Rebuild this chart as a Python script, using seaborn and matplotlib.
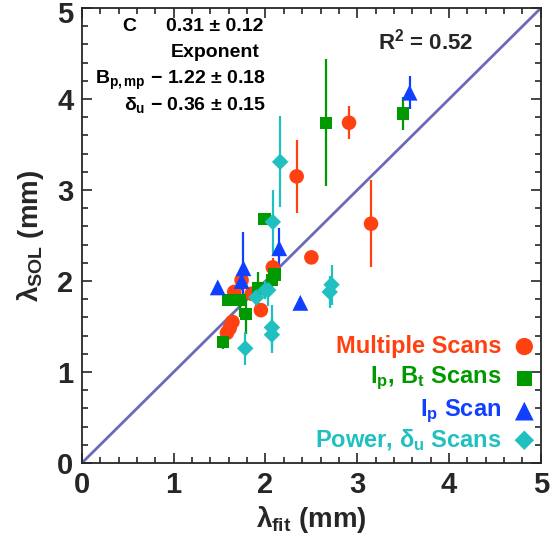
import numpy as np
import pandas as pd
import matplotlib
matplotlib.use("Agg")
import matplotlib.pyplot as plt
import matplotlib.transforms as mtrans
import seaborn as sns

# Datos (lambda_fit, lambda_SOL, error)
multi_x = [2.91, 2.34, 3.15, 2.50, 2.08, 1.74, 1.66, 1.85, 1.95, 1.64, 1.61, 1.58]
multi_y = [3.74, 3.15, 2.63, 2.26, 2.15, 2.01, 1.88, 1.86, 1.68, 1.55, 1.48, 1.43]
multi_e = [0.18, 0.40, 0.48, 0.00, 0.10, 0.08, 0.06, 0.05, 0.05, 0.05, 0.05, 0.05]

ipbt_x = [3.50, 2.66, 1.99, 2.10, 2.07, 1.92, 1.59, 1.72, 1.79, 1.54]
ipbt_y = [3.84, 3.74, 2.68, 2.07, 2.01, 1.92, 1.79, 1.79, 1.64, 1.33]
ipbt_e = [0.18, 0.70, 0.04, 0.08, 0.08, 0.18, 0.05, 0.18, 0.22, 0.08]

ip_x = [3.57, 2.15, 1.76, 1.74, 1.48, 2.38]
ip_y = [4.07, 2.36, 2.14, 2.00, 1.93, 1.76]
ip_e = [0.18, 0.22, 0.40, 0.10, 0.06, 0.05]

pow_x = [2.16, 2.08, 2.03, 2.00, 1.90, 2.07, 2.07, 1.78, 2.72, 2.70]
pow_y = [3.31, 2.65, 1.90, 1.90, 1.82, 1.49, 1.41, 1.26, 1.96, 1.88]
pow_e = [0.50, 0.35, 0.17, 0.10, 0.12, 0.25, 0.20, 0.18, 0.22, 0.18]

series = ["Multiple Scans", r"I$_\mathregular{p}$, B$_\mathregular{t}$ Scans",
          r"I$_\mathregular{p}$ Scan", r"Power, $\delta_\mathregular{u}$ Scans"]
colores = ["#ff4010", "#009a00", "#1040ff", "#20c0c0"]
marcadores = ["o", "s", "^", "D"]
tamanos = [110, 80, 130, 70]

frames = []
for nombre, xs, ys, es in zip(series, [multi_x, ipbt_x, ip_x, pow_x],
                              [multi_y, ipbt_y, ip_y, pow_y],
                              [multi_e, ipbt_e, ip_e, pow_e]):
    frames.append(pd.DataFrame({"x": xs, "y": ys, "e": es, "serie": nombre}))
df = pd.concat(frames, ignore_index=True)

sns.set_style("ticks")
plt.rcParams["font.family"] = ["Liberation Sans", "DejaVu Sans"]
plt.rcParams["font.weight"] = "bold"
plt.rcParams["mathtext.fontset"] = "custom"
plt.rcParams["mathtext.rm"] = "Liberation Sans:bold"
plt.rcParams["mathtext.it"] = "Liberation Sans:bold"
plt.rcParams["mathtext.bf"] = "Liberation Sans:bold"

fig = plt.figure(figsize=(5.57, 5.39), dpi=100)
ax = fig.add_axes([0.147, 0.141, 0.824, 0.844])

ax.plot([0, 5], [0, 5], color="#6a6ab8", lw=2, zorder=1)

for nombre, c in zip(series, colores):
    d = df[df.serie == nombre]
    ax.errorbar(d.x, d.y, yerr=d.e, fmt="none", ecolor=c, elinewidth=1.6, zorder=2)

for nombre, c, m, s in zip(series, colores, marcadores, tamanos):
    d = df[df.serie == nombre]
    sns.scatterplot(data=d, x="x", y="y", color=c, marker=m, s=s,
                    edgecolor="none", ax=ax, zorder=3, legend=False)

ax.set_xlim(0, 5)
ax.set_ylim(0, 5)
ax.set_xticks(range(6))
ax.set_yticks(range(6))
ax.set_xticks(np.arange(0, 5.01, 0.2), minor=True)
ax.set_yticks(np.arange(0, 5.01, 0.2), minor=True)
ax.tick_params(which="both", direction="in", top=True, right=True, width=1.2)
ax.tick_params(which="major", length=7, labelsize=21, pad=6)
ax.tick_params(which="minor", length=4)
for lab in ax.get_xticklabels() + ax.get_yticklabels():
    lab.set_fontweight("bold")
for sp in ax.spines.values():
    sp.set_linewidth(1.3)

# bajar un poco la etiqueta "5" del eje y para que no se corte
top_lab = ax.get_yticklabels()[-1]
top_lab.set_transform(top_lab.get_transform() +
                      mtrans.ScaledTranslation(0, -4 / 100, fig.dpi_scale_trans))

ax.set_xlabel(r"$\lambda_\mathregular{fit}$ (mm)", fontsize=20, fontweight="bold", labelpad=3)
ax.set_ylabel(r"$\lambda_\mathregular{SOL}$ (mm)", fontsize=20, fontweight="bold", labelpad=8)

# Anotaciones
kw = dict(fontsize=14, fontweight="bold", color="black")
ax.text(0.52, 4.8, "C", ha="center", va="center", **kw)
ax.text(1.45, 4.8, "0.31 ± 0.12", ha="center", va="center", **kw)
ax.text(1.45, 4.51, "Exponent", ha="center", va="center", **kw)
ax.text(2.0, 4.21, r"B$_\mathregular{p,mp}$ − 1.22 ± 0.18", ha="right", va="center", **kw)
ax.text(2.0, 3.93, r"$\delta_\mathregular{u}$ − 0.36 ± 0.15", ha="right", va="center", **kw)
ax.text(3.75, 4.63, r"R$^\mathregular{2}$ = 0.52", ha="center", va="center",
        fontsize=16, fontweight="bold")

# Leyenda manual
ly = [1.28, 0.93, 0.57, 0.25]
for nombre, c, m, s, yy in zip(series, colores, marcadores, tamanos, ly):
    ax.text(4.57, yy, nombre, ha="right", va="center", color=c, fontsize=17, fontweight="bold")
    ax.scatter([4.82], [yy], color=c, marker=m, s=s * 1.4, edgecolor="none", zorder=4)

fig.savefig("out.png", dpi=100)
